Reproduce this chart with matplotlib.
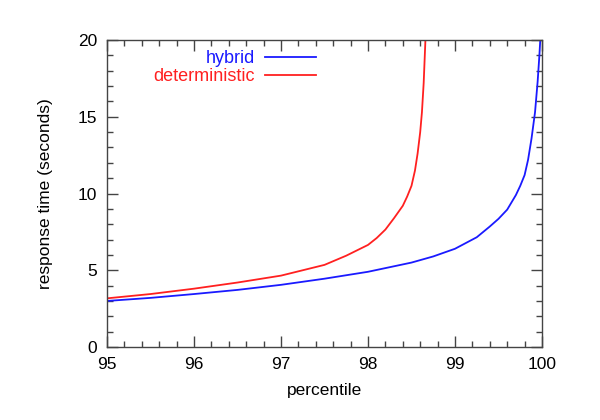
import matplotlib
matplotlib.use("Agg")
import matplotlib.pyplot as plt
from matplotlib.ticker import MultipleLocator

plt.rcParams['font.family'] = ['Liberation Sans', 'DejaVu Sans']

# percentile vs response time
hybrid_pct = [95, 95.5, 96, 96.5, 97, 97.5, 98, 98.5, 98.75, 99, 99.1, 99.25, 99.4, 99.5, 99.6, 99.7,
              99.75, 99.8, 99.84, 99.88, 99.92, 99.95, 99.97, 99.98]
hybrid_rt = [3.0, 3.2, 3.45, 3.72, 4.05, 4.45, 4.9, 5.5, 5.9, 6.4, 6.7, 7.15, 7.85, 8.35, 8.95, 9.9,
             10.5, 11.2, 12.2, 13.6, 15.3, 17.3, 19.0, 20]

det_pct = [95, 95.5, 96, 96.5, 97, 97.5, 97.75, 98, 98.1, 98.2, 98.3, 98.4, 98.45, 98.5, 98.54,
           98.57, 98.6, 98.62, 98.64, 98.66]
det_rt = [3.17, 3.45, 3.8, 4.2, 4.65, 5.35, 5.95, 6.65, 7.1, 7.65, 8.4, 9.2, 9.8, 10.5, 11.5,
          12.6, 14.0, 15.3, 17.2, 20]

fig = plt.figure(figsize=(6, 4.2), dpi=100)
ax = fig.add_axes([107/600, 1 - 347/420, 435/600, 307/420])

ax.plot(hybrid_pct, hybrid_rt, color='#1a1aff', lw=1.3, label='hybrid')
ax.plot(det_pct, det_rt, color='#ff2020', lw=1.3, label='deterministic')

ax.set_xlim(95, 100)
ax.set_ylim(0, 20)
ax.xaxis.set_major_locator(MultipleLocator(1))
ax.xaxis.set_minor_locator(MultipleLocator(0.2))
ax.yaxis.set_major_locator(MultipleLocator(5))
ax.yaxis.set_minor_locator(MultipleLocator(1))
ax.tick_params(which='both', direction='in', top=True, right=True, color='#444444', labelsize=12.5, width=1)
ax.tick_params(which='major', length=8, pad=7)
ax.tick_params(which='minor', length=4)
for s in ax.spines.values():
    s.set_color('#444444')
    s.set_linewidth(1)

ax.set_xlabel('percentile', fontsize=12.5, labelpad=8)
ax.set_ylabel('response time (seconds)', fontsize=12.5, labelpad=18)

leg = ax.legend(loc='upper right', bbox_to_anchor=(316/600, 1 - 50/420), bbox_transform=fig.transFigure,
                frameon=False, markerfirst=False, labelcolor='linecolor', fontsize=13,
                handlelength=2.8, handletextpad=0.6, labelspacing=0.05, borderpad=0, borderaxespad=0)

fig.savefig('out.png', dpi=100)
